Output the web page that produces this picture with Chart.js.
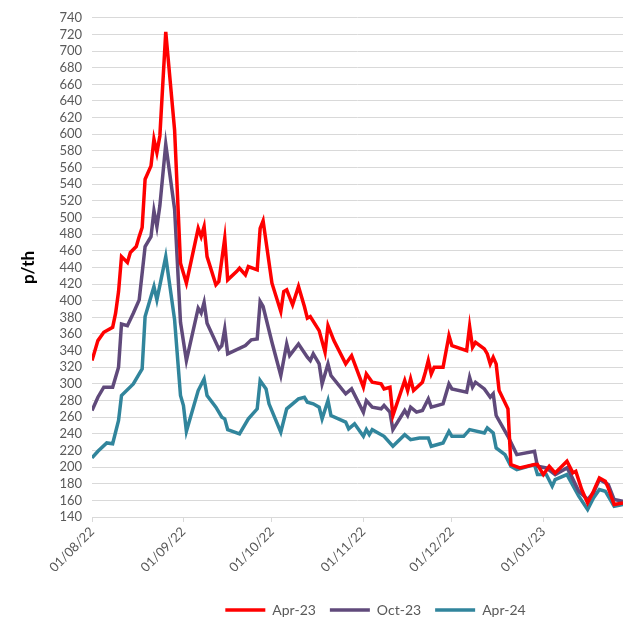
<!DOCTYPE html>
<html>
<head>
<meta charset="utf-8">
<script src="https://cdn.jsdelivr.net/npm/chart.js@4"></script>
<style>
    html, body { margin: 0; padding: 0; background: #fff; }
    #wrap { width: 623px; height: 619px; }
</style>
</head>
<body>
<div id="wrap"><canvas id="myChart"></canvas></div>
<script>
// days counted from 01/08/22
var monthTicks = [0, 31, 61, 92, 122, 153];
var monthLabels = ['01/08/22', '01/09/22', '01/10/22', '01/11/22', '01/12/22', '01/01/23'];

var apr23Days = [0, 2, 4, 7, 8, 9, 10, 12, 13, 15, 16, 17, 18, 20, 21, 22, 23, 25, 28, 30, 32, 36, 37, 38, 39, 42, 43, 45, 46, 49, 50, 52, 53, 56, 57, 58, 61, 64, 65, 66, 68, 70, 72, 73, 74, 77, 79, 80, 82, 86, 88, 92, 93, 95, 98, 99, 101, 102, 106, 107, 108, 109, 112, 113, 114, 115, 116, 119, 121, 122, 127, 128, 129, 130, 133, 134, 135, 136, 137, 138, 141, 142, 145, 150, 151, 153, 155, 157, 161, 163, 164, 166, 168, 170, 172, 174, 175, 177, 180];
var apr23Values = [328, 352, 362, 368, 385, 411, 453, 446, 458, 465, 477, 488, 546, 562, 594, 578, 598, 723, 605, 445, 421, 487, 477, 489, 453, 419, 423, 475, 425, 435, 439, 431, 441, 437, 487, 496, 421, 387, 411, 413, 395, 417, 393, 379, 381, 364, 338, 370, 352, 324, 334, 296, 312, 302, 300, 294, 296, 262, 304, 292, 306, 292, 302, 314, 328, 312, 320, 320, 358, 346, 340, 369, 344, 350, 342, 336, 324, 332, 324, 292, 270, 203, 199, 203, 203, 191, 201, 193, 207, 193, 195, 173, 157, 171, 187, 183, 175, 155, 157];

var oct23Days = [0, 2, 4, 7, 9, 10, 12, 14, 16, 18, 20, 21, 22, 23, 25, 28, 30, 32, 36, 37, 38, 39, 43, 44, 45, 46, 52, 54, 56, 57, 58, 61, 64, 66, 67, 70, 73, 74, 75, 77, 78, 80, 81, 86, 88, 92, 93, 95, 98, 99, 101, 102, 106, 107, 108, 110, 112, 114, 115, 119, 121, 122, 127, 128, 129, 130, 133, 135, 136, 137, 141, 144, 150, 151, 154, 157, 161, 162, 165, 168, 170, 172, 175, 177, 180];
var oct23Values = [268, 284, 296, 296, 320, 372, 370, 385, 401, 465, 477, 508, 489, 514, 588, 510, 374, 328, 391, 385, 398, 373, 342, 346, 366, 336, 346, 353, 354, 399, 393, 350, 310, 348, 334, 348, 332, 328, 336, 324, 300, 324, 310, 288, 294, 266, 280, 272, 270, 274, 266, 245, 268, 262, 272, 266, 268, 282, 272, 276, 300, 294, 290, 308, 296, 302, 294, 284, 288, 262, 237, 215, 219, 201, 199, 191, 199, 193, 171, 161, 169, 185, 179, 161, 159];

var apr24Days = [0, 2, 5, 7, 9, 10, 14, 16, 17, 18, 21, 22, 25, 28, 30, 31, 32, 36, 38, 39, 42, 44, 45, 46, 50, 53, 56, 57, 59, 60, 64, 66, 68, 70, 72, 73, 75, 77, 78, 80, 81, 86, 87, 89, 92, 93, 94, 95, 97, 99, 102, 106, 108, 111, 114, 115, 119, 121, 122, 126, 128, 133, 134, 136, 137, 140, 142, 144, 150, 151, 154, 156, 157, 161, 165, 168, 170, 172, 174, 177, 180];
var apr24Values = [211, 219, 229, 228, 256, 286, 300, 312, 318, 381, 417, 401, 453, 377, 286, 274, 243, 292, 306, 286, 272, 260, 258, 245, 240, 258, 270, 304, 294, 276, 242, 270, 276, 282, 284, 278, 276, 272, 258, 280, 262, 254, 246, 252, 237, 245, 239, 245, 241, 237, 225, 239, 233, 235, 235, 225, 229, 243, 237, 237, 245, 241, 247, 241, 223, 215, 201, 197, 203, 191, 191, 177, 185, 191, 165, 149, 163, 173, 171, 153, 155];

function points(days, values) {
    var result = [];
    for (var i = 0; i < days.length; i++) {
        result.push({x: days[i], y: values[i]});
    }
    return result;
}

function series(label, days, values, color) {
    return {
        label: label,
        data: points(days, values),
        borderColor: color,
        backgroundColor: color,
        borderWidth: 3.5,
        pointRadius: 0,
        tension: 0,
        fill: false
    };
}

var textGrey = '#595959';
var gridGrey = '#d9d9d9';

// nudge the legend to sit under the plot like the original
var legendShift = {
    id: 'legendShift',
    afterLayout: function (chart) {
        chart.legend.left += 64;
        chart.legend.right += 64;
        chart.legend.top += 8;
        chart.legend.bottom += 8;
    }
};

var ctx = document.getElementById("myChart");
var myChart = new Chart(ctx, {
    type: 'line',
    data: {
        datasets: [
            series('Apr-23', apr23Days, apr23Values, '#ff0000'),
            series('Oct-23', oct23Days, oct23Values, '#604a7b'),
            series('Apr-24', apr24Days, apr24Values, '#31859c')
        ]
    },
    options: {
        responsive: true,
        maintainAspectRatio: false,
        animation: false,
        layout: {padding: {top: 16, right: 0, bottom: 0, left: 0}},
        plugins: {
            tooltip: {enabled: false},
            legend: {
                position: 'bottom',
                labels: {
                    usePointStyle: true,
                    pointStyle: 'line',
                    pointStyleWidth: 40,
                    color: textGrey,
                    padding: 14,
                    font: {family: 'Lato', size: 14}
                }
            }
        },
        scales: {
            x: {
                type: 'linear',
                min: 0,
                max: 180,
                afterBuildTicks: function (scale) {
                    scale.ticks = monthTicks.map(function (v) { return {value: v}; });
                },
                afterFit: function (scale) {
                    scale.height = 64;
                },
                ticks: {
                    autoSkip: false,
                    minRotation: 45,
                    maxRotation: 45,
                    color: textGrey,
                    padding: 2,
                    font: {family: 'Lato', size: 13},
                    callback: function (value) {
                        var i = monthTicks.indexOf(value);
                        return i >= 0 ? monthLabels[i] : '';
                    }
                },
                grid: {drawOnChartArea: false, drawTicks: true, tickLength: 5, color: gridGrey},
                border: {display: true, color: gridGrey, width: 1}
            },
            y: {
                min: 140,
                max: 740,
                afterFit: function (scale) {
                    scale.width = 92;
                },
                ticks: {
                    stepSize: 20,
                    autoSkip: false,
                    color: textGrey,
                    padding: 10,
                    font: {family: 'Lato', size: 13}
                },
                grid: {color: gridGrey, lineWidth: 1, drawTicks: false},
                border: {display: false},
                title: {
                    display: true,
                    text: 'p/th',
                    color: '#000000',
                    padding: {top: 18, bottom: 0},
                    font: {family: 'Lato', size: 17, weight: 'bold'}
                }
            }
        }
    },
    plugins: [legendShift]
});
</script>
</body>
</html>
